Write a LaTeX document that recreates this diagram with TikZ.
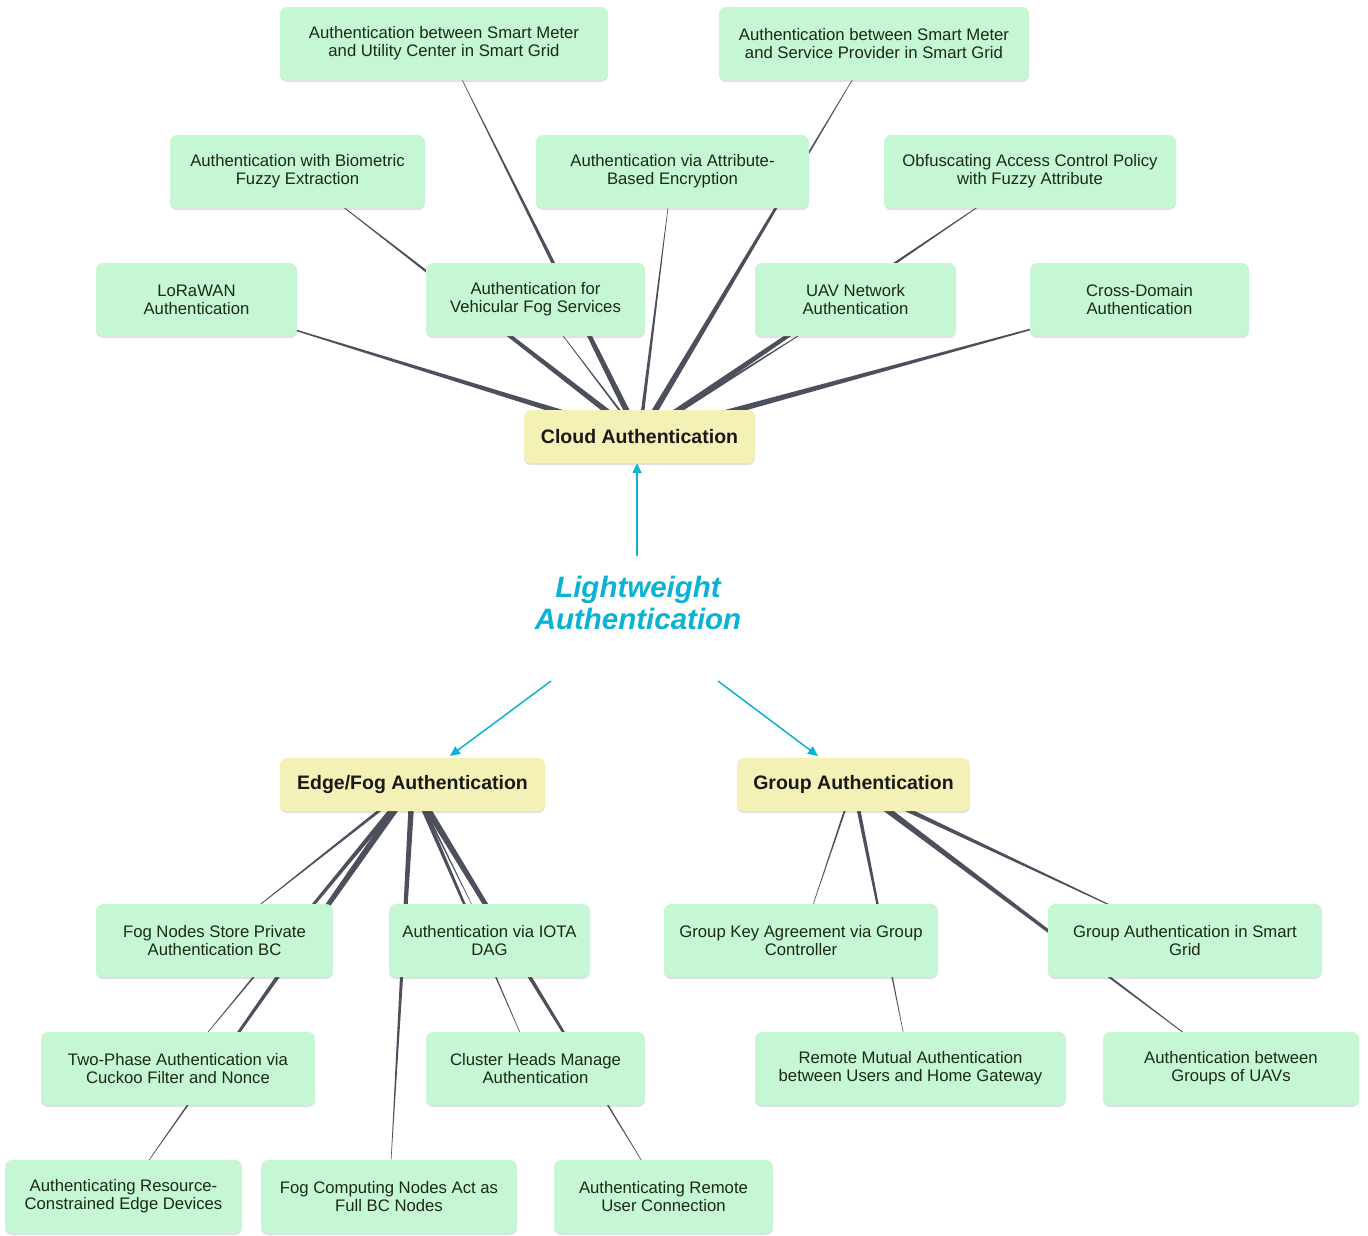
\documentclass[tikz,border=0pt]{standalone}
\usepackage{fontspec}
\setmainfont{Liberation Sans}
\usetikzlibrary{calc,shadows,arrows.meta,backgrounds}
\definecolor{leaffill}{HTML}{C5F7D4}
\definecolor{hubfill}{HTML}{F3F1B5}
\definecolor{edgecol}{HTML}{4B505C}
\definecolor{cyanc}{HTML}{0AB2D6}
\definecolor{txtc}{HTML}{1B2A17}
\newcommand\taperline[2]{\fill[edgecol] (#2.center) -- ($(#1.center)!0.007!90:(#2.center)$) -- ($(#1.center)!0.007!-90:(#2.center)$) -- cycle;}
\begin{document}
\begin{tikzpicture}[x=1pt,y=-1pt,
  boxbase/.style={rounded corners=7pt, align=center, inner sep=0pt,
    drop shadow={shadow xshift=0pt, shadow yshift=-2pt, opacity=0.12, fill=black}},
  leaf/.style={boxbase, fill=leaffill, minimum height=73pt, text=txtc,
    font=\fontsize{16.7}{18}\selectfont},
  hub/.style={boxbase, fill=hubfill, minimum height=53pt, text=black!90,
    font=\fontsize{19.5}{22}\selectfont\bfseries},
  titlestyle/.style={text=cyanc, align=center, inner sep=0pt,
    font=\fontsize{29.5}{32}\selectfont\bfseries\itshape},
  cyanarrow/.style={draw=cyanc, line width=1.5pt, -{Triangle[length=10pt,width=9pt]}}
]
\useasboundingbox (0,0) rectangle (1368,1235);

% Cloud branch
\node[hub, minimum width=231pt] (cloud) at (639.5,436.5) {Cloud Authentication};
\node[leaf, minimum width=328pt] (utility) at (444,43.5) {Authentication between Smart Meter\\and Utility Center in Smart Grid};
\node[leaf, minimum width=310pt] (provider) at (874,43.5) {Authentication between Smart Meter\\and Service Provider in Smart Grid};
\node[leaf, minimum width=255pt] (biometric) at (297.5,171.5) {Authentication with Biometric\\Fuzzy Extraction};
\node[leaf, minimum width=273pt] (abe) at (672.5,171.5) {Authentication via Attribute-\\Based Encryption};
\node[leaf, minimum width=292pt] (obfus) at (1030,171.5) {Obfuscating Access Control Policy\\with Fuzzy Attribute};
\node[leaf, minimum width=201pt] (lorawan) at (196.5,299.5) {LoRaWAN\\Authentication};
\node[leaf, minimum width=219pt] (vehicular) at (535.5,299.5) {Authentication for\\Vehicular Fog Services};
\node[leaf, minimum width=201pt] (uav) at (855.5,299.5) {UAV Network\\Authentication};
\node[leaf, minimum width=219pt] (cross) at (1139.5,299.5) {Cross-Domain\\Authentication};

% Title
\node[titlestyle] (title) at (638,603) {Lightweight\\Authentication};

% Edge/Fog branch
\node[hub, minimum width=265pt] (edgefog) at (412.5,784.5) {Edge/Fog Authentication};
\node[leaf, minimum width=237pt] (fogstore) at (214.5,940.5) {Fog Nodes Store Private\\Authentication BC};
\node[leaf, minimum width=201pt] (iota) at (489.5,940.5) {Authentication via IOTA\\DAG};
\node[leaf, minimum width=274pt] (twophase) at (178,1068.5) {Two-Phase Authentication via\\Cuckoo Filter and Nonce};
\node[leaf, minimum width=219pt] (cluster) at (535.5,1068.5) {Cluster Heads Manage\\Authentication};
\node[leaf, minimum width=237pt] (resource) at (123.5,1196.5) {Authenticating Resource-\\Constrained Edge Devices};
\node[leaf, minimum width=256pt] (fogcomp) at (389,1196.5) {Fog Computing Nodes Act as\\Full BC Nodes};
\node[leaf, minimum width=219pt] (remoteuser) at (663.5,1196.5) {Authenticating Remote\\User Connection};

% Group branch
\node[hub, minimum width=233pt] (group) at (853.5,784.5) {Group Authentication};
\node[leaf, minimum width=274pt] (gka) at (801,940.5) {Group Key Agreement via Group\\Controller};
\node[leaf, minimum width=274pt] (gasg) at (1185,940.5) {Group Authentication in Smart\\Grid};
\node[leaf, minimum width=311pt] (remotemutual) at (910.5,1068.5) {Remote Mutual Authentication\\between Users and Home Gateway};
\node[leaf, minimum width=256pt] (uavgroups) at (1231,1068.5) {Authentication between\\Groups of UAVs};

% Tapered connectors behind the boxes
\begin{scope}[on background layer]
  \foreach \leafname in {utility,provider,biometric,abe,obfus,lorawan,vehicular,uav,cross}
    {\taperline{cloud}{\leafname}}
  \foreach \leafname in {fogstore,iota,twophase,cluster,resource,fogcomp,remoteuser}
    {\taperline{edgefog}{\leafname}}
  \foreach \leafname in {gka,gasg,remotemutual,uavgroups}
    {\taperline{group}{\leafname}}
\end{scope}

% Cyan arrows from the title
\coordinate (upstart) at (637,556);
\coordinate (leftstart) at (551,681);
\coordinate (leftend) at (450,756);
\coordinate (rightstart) at (718,681);
\coordinate (rightend) at (818,756);
\draw[cyanarrow] (upstart) -- (cloud.south -| upstart);
\draw[cyanarrow] (leftstart) -- (leftend);
\draw[cyanarrow] (rightstart) -- (rightend);
\end{tikzpicture}
\end{document}
